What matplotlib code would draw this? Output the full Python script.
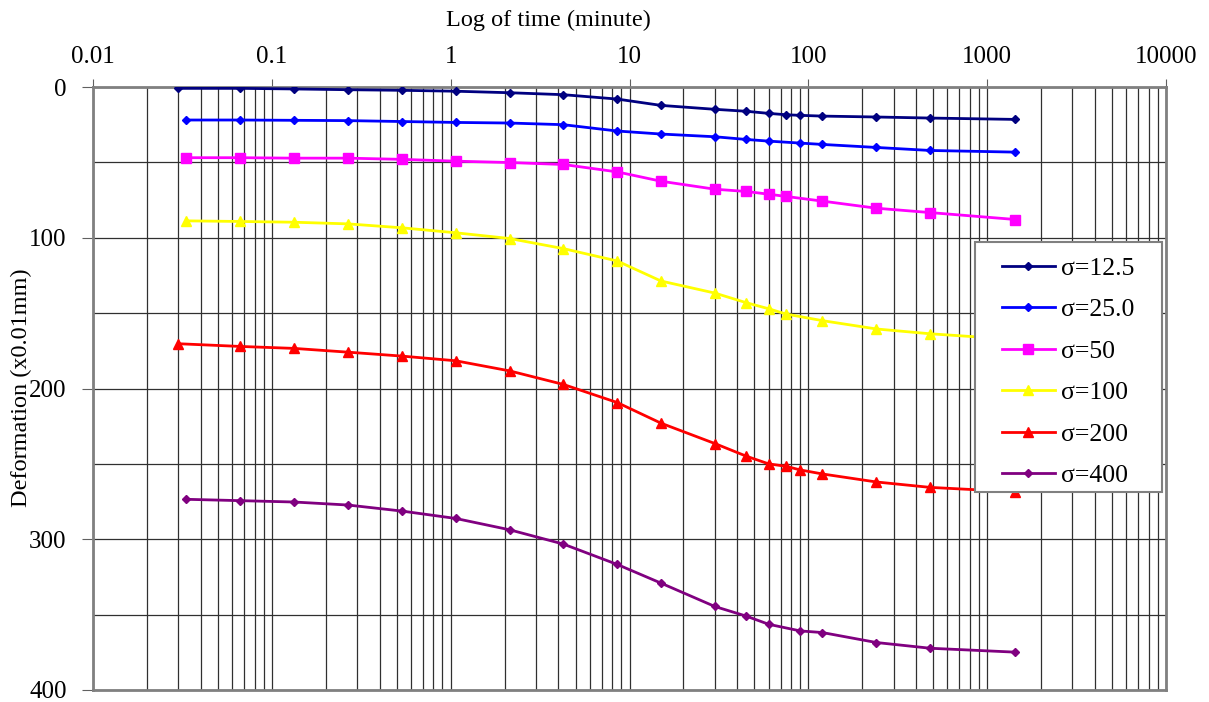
import matplotlib
matplotlib.use('Agg')
import matplotlib.pyplot as plt
import numpy as np
from matplotlib.patches import Rectangle
from matplotlib.ticker import LogLocator, NullFormatter, FixedLocator

plt.rcParams['font.family'] = ['Liberation Serif', 'DejaVu Serif']

# time in minutes (log scale)
t_all = [0.0333, 0.0667, 0.1333, 0.2667, 0.5333, 1.0667, 2.1333, 4.2667, 8.5333,
         15, 30, 45, 60, 75, 90, 120, 240, 480, 1440]

t_125 = [0.03] + t_all[1:]
d_125 = [0.9, 0.9, 1.3, 1.8, 2.2, 2.8, 3.8, 5.1, 8.0, 12.2, 14.8, 16.1, 17.5, 18.4, 18.8,
         19.3, 19.9, 20.6, 21.5]

t_25 = [t for t in t_all if t != 75]
d_25 = [21.9, 21.9, 22.1, 22.3, 22.9, 23.5, 23.9, 25.0, 29.2, 31.2, 33.0, 34.8, 35.9,
        37.2, 38.1, 40.1, 42.1, 43.2]

t_50 = [t for t in t_all if t != 90]
d_50 = [46.9, 46.9, 47.2, 47.2, 48.0, 49.2, 50.1, 51.4, 56.3, 62.5, 67.8, 69.3, 71.1,
        72.6, 75.7, 80.4, 83.3, 87.9]

t_100 = [t for t in t_all if t != 90]
d_100 = [88.8, 89.2, 89.7, 90.8, 93.4, 96.7, 100.5, 107.2, 115.4, 128.7, 136.7, 143.1,
         147.1, 150.6, 155.0, 160.5, 163.7, 167.5]

t_200 = [0.03] + t_all[1:]
d_200 = [170.3, 172.1, 173.4, 175.9, 178.5, 181.6, 188.3, 197.3, 209.3, 223.0, 236.5,
         244.9, 250.0, 251.6, 254.0, 256.7, 262.0, 265.6, 268.5]

t_400 = [t for t in t_all if t != 75]
d_400 = [273.5, 274.4, 275.3, 277.3, 281.3, 286.2, 293.7, 303.2, 316.7, 329.1, 344.6,
         351.0, 356.4, 360.8, 361.9, 368.5, 372.3, 374.9]

labels = ['σ=12.5', 'σ=25.0', 'σ=50', 'σ=100', 'σ=200', 'σ=400']
x_ticks = [0.01, 0.1, 1, 10, 100, 1000, 10000]
x_tick_labels = ['0.01', '0.1', '1', '10', '100', '1000', '10000']
y_ticks = [0, 100, 200, 300, 400]

fig = plt.figure(figsize=(12.09, 7.02), dpi=100)
ax = fig.add_axes([93 / 1209, 1 - 690 / 702, (1166 - 93) / 1209, (690 - 87) / 702])

series = [
    (t_125, d_125, '#000080', 'D', 4),
    (t_25, d_25, '#0000FF', 'D', 4),
    (t_50, d_50, '#FF00FF', 's', 6.5),
    (t_100, d_100, '#FFFF00', '^', 6.5),
    (t_200, d_200, '#FF0000', '^', 6.5),
    (t_400, d_400, '#800080', 'D', 4),
]
for (t, d, c, m, ms), lab in zip(series, labels):
    ax.plot(t, d, color=c, marker=m, markersize=ms, linewidth=2, label=lab, zorder=3)

ax.set_xscale('log')
ax.set_xlim(0.01, 10000)
ax.set_ylim(400, 0)

ax.xaxis.set_major_locator(FixedLocator(x_ticks))
ax.set_xticklabels(x_tick_labels)
ax.xaxis.set_minor_locator(LogLocator(base=10, subs=np.arange(2, 10)))
ax.xaxis.set_minor_formatter(NullFormatter())
ax.xaxis.tick_top()
ax.tick_params(axis='x', which='major', direction='out', length=6, pad=8,
               labelsize=18, color='#606060')
ax.tick_params(axis='x', which='minor', length=0)

ax.set_yticks(y_ticks)
ax.set_yticks([50, 150, 250, 350], minor=True)
ax.tick_params(axis='y', which='major', direction='out', length=8, pad=11,
               labelsize=18, color='#606060')
ax.tick_params(axis='y', which='minor', length=0)

ax.grid(True, which='both', axis='both', color='#303030', linewidth=0.9, zorder=1)
ax.set_axisbelow(True)

for s in ax.spines.values():
    s.set_color('#808080')
    s.set_linewidth(2)

# axis titles
fig.text(21 / 1209, 1 - 388 / 702, 'Deformation (x0.01mm)', fontsize=17.5,
         rotation=90, ha='center', va='center')
fig.text(548 / 1209, 1 - 20 / 702, 'Log of time (minute)', fontsize=17.5,
         ha='center', va='center')

# legend box
box = Rectangle((0.822, 0.328), 0.174, 0.415, transform=ax.transAxes,
                facecolor='white', edgecolor='#808080', linewidth=1.5, zorder=5)
ax.add_patch(box)
leg = ax.legend(loc='upper left', bbox_to_anchor=(0.830, 0.748), frameon=False,
                fontsize=18.5, handlelength=2.06, handletextpad=0.25,
                labelspacing=0.72, borderpad=0.2)
leg.set_zorder(6)

fig.savefig('out.png', dpi=100)
